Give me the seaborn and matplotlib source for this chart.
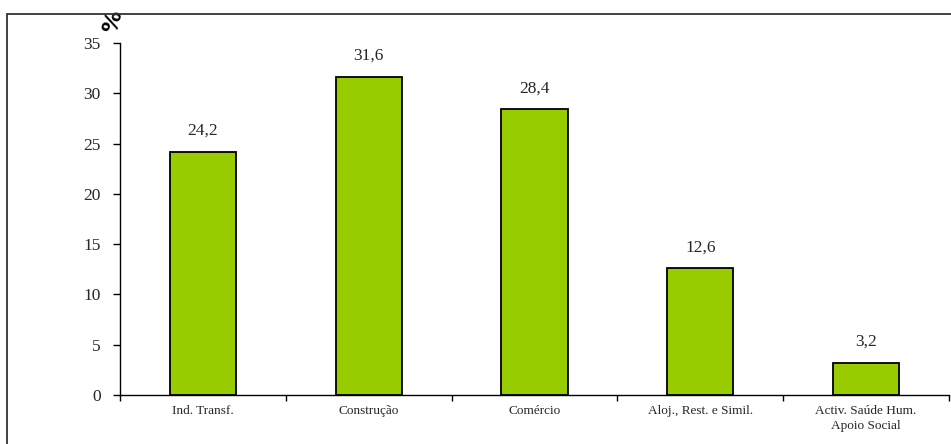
import matplotlib
matplotlib.use("Agg")
import matplotlib.pyplot as plt
import seaborn as sns
import pandas as pd
import numpy as np
from matplotlib.patches import Rectangle

categories = ["Ind. Transf.", "Construção", "Comércio", "Aloj., Rest. e Simil.", "Activ. Saúde Hum.\nApoio Social"]
values = [24.2, 31.6, 28.4, 12.6, 3.2]
yticks = [0, 5, 10, 15, 20, 25, 30, 35]

sns.set_style("white")
plt.rcParams['font.family'] = ['Liberation Serif', 'DejaVu Serif']

df = pd.DataFrame({"cat": categories, "val": values})
fig = plt.figure(figsize=(9.51, 4.44), dpi=100)
ax = fig.add_axes([120/951, 1-395/444, 829/951, (395-43)/444])
sns.barplot(data=df, x="cat", y="val", color="#99CC00", width=0.4,
            edgecolor="black", linewidth=1.3, saturation=1, ax=ax)
ax.set_ylim(0, 35)
ax.set_xlim(-0.5, 4.5)
ax.set_yticks(yticks)
ax.set_yticklabels([str(t) for t in yticks], fontsize=12.5)
ax.set_xlabel("")
ax.set_ylabel("")
ax.set_xticks(range(len(categories)))
ax.set_xticklabels(categories, fontsize=9.5, linespacing=1.4)
ax.set_xticks(np.arange(-0.5, 5, 1), minor=True)
ax.tick_params(axis='x', which='major', bottom=True, length=0, pad=7)
ax.tick_params(axis='x', which='minor', bottom=True, length=4, width=1, color='black', direction='out')
ax.tick_params(axis='y', left=True, length=5, width=1, color='black', direction='out', pad=9)
for s in ['top', 'right']:
    ax.spines[s].set_visible(False)
for s in ['left', 'bottom']:
    ax.spines[s].set_color('black')
    ax.spines[s].set_linewidth(1)
for i, v in enumerate(values):
    ax.text(i, v + 1.3, f"{v:.1f}".replace(".", ","), ha='center', va='bottom', fontsize=12.5)
fig.text(113/951, 1-22/444, "%", rotation=75, fontsize=16, fontweight='bold',
         family=['DejaVu Sans'], ha='center', va='center', color='black', zorder=0)
fig.patches.append(Rectangle((7/951, -0.05), 1.1, 1-14/444+0.05, transform=fig.transFigure,
                             fill=False, edgecolor='#333333', linewidth=1.3, zorder=5))
fig.savefig("out.png", dpi=100)
